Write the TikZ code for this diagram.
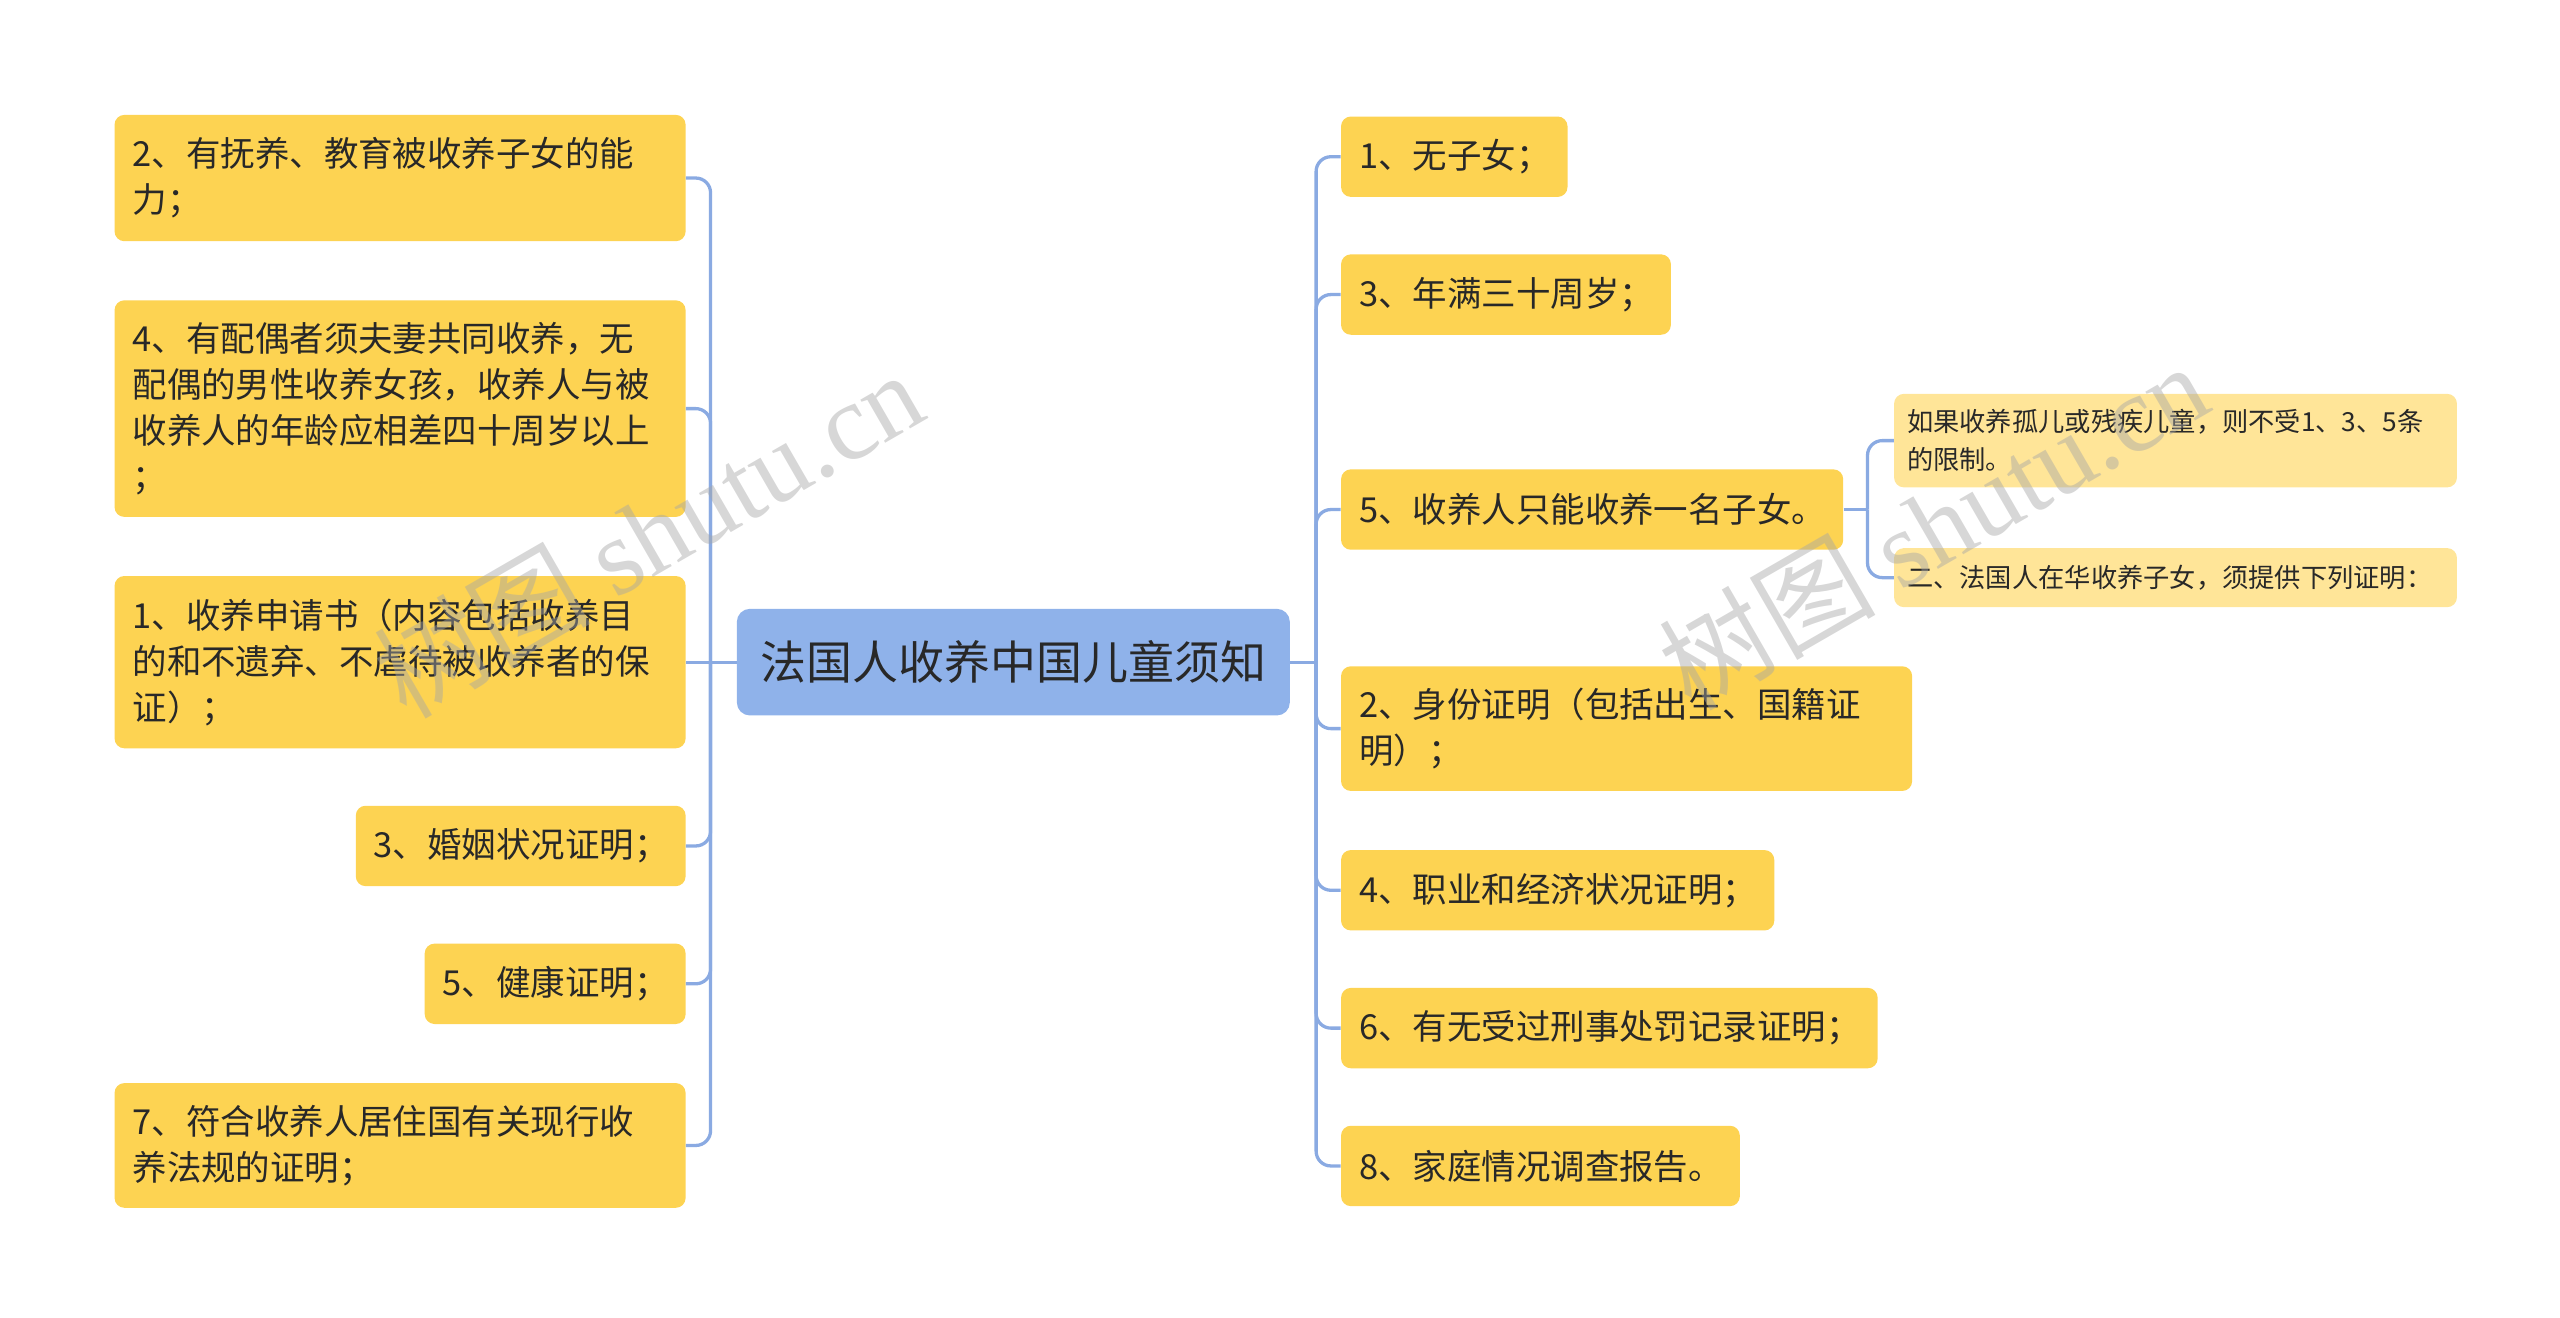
\documentclass[tikz,border=0pt]{standalone}
\usepackage{fontspec}
\setmainfont{Noto Sans CJK SC}
\newfontfamily\wmserif{Liberation Serif}
\usetikzlibrary{positioning}
\definecolor{leafc}{RGB}{253,211,82}
\definecolor{subc}{RGB}{255,229,152}
\definecolor{rootc}{RGB}{143,178,234}
\definecolor{linkc}{RGB}{138,170,226}
\definecolor{txtc}{RGB}{40,40,40}
\tikzset{
  leaf/.style={fill=leafc, rounded corners=6pt, inner xsep=11pt, inner ysep=0pt,
    align=left, text=txtc, minimum height=49pt, font=\fontsize{21pt}{28pt}\selectfont},
  subleaf/.style={fill=subc, rounded corners=6pt, inner xsep=8pt, inner ysep=0pt,
    align=left, text=txtc, text width=327pt, font=\fontsize{16pt}{23pt}\selectfont},
  rootbox/.style={fill=rootc, rounded corners=8pt, minimum width=337pt, minimum height=65pt,
    text=txtc, font=\fontsize{28pt}{34pt}\selectfont},
  link/.style={draw=linkc, line width=2pt, rounded corners=9pt},
  wmark/.style={text=gray!70, opacity=0.45, rotate=30, font=\fontsize{66pt}{66pt}\selectfont}
}
\begin{document}
\begin{tikzpicture}[x=1pt,y=-1pt]
  \useasboundingbox (0,0) rectangle (1560,802.6);

  % centre
  \node[rootbox] (root) at (617.5,403.5) {法国人收养中国儿童须知};

  % left branch
  \node[leaf, anchor=east, text width=326pt, minimum height=77pt] (l2) at (418,108.5)
    {2、有抚养、教育被收养子女的能\\力；};
  \node[leaf, anchor=east, text width=326pt, minimum height=132pt] (l4) at (418,249)
    {4、有配偶者须夫妻共同收养，无\\配偶的男性收养女孩，收养人与被\\收养人的年龄应相差四十周岁以上\\；};
  \node[leaf, anchor=east, text width=326pt, minimum height=105pt] (l1) at (418,403.5)
    {1、收养申请书（内容包括收养目\\的和不遗弃、不虐待被收养者的保\\证）；};
  \node[leaf, anchor=east, text width=179pt] (l3) at (418,515.5) {3、婚姻状况证明；};
  \node[leaf, anchor=east, text width=137pt] (l5) at (418,599.5) {5、健康证明；};
  \node[leaf, anchor=east, text width=326pt, minimum height=76pt] (l7) at (418,698)
    {7、符合收养人居住国有关现行收\\养法规的证明；};

  % right branch
  \node[leaf, anchor=west, text width=116pt] (r1) at (817,95.5) {1、无子女；};
  \node[leaf, anchor=west, text width=179pt] (r3) at (817,179.5) {3、年满三十周岁；};
  \node[leaf, anchor=west, text width=284pt] (r5) at (817,310.5) {5、收养人只能收养一名子女。};
  \node[leaf, anchor=west, text width=326pt, minimum height=76pt] (r2) at (817,444)
    {2、身份证明（包括出生、国籍证\\明）；};
  \node[leaf, anchor=west, text width=242pt] (r4) at (817,542.5) {4、职业和经济状况证明；};
  \node[leaf, anchor=west, text width=305pt] (r6) at (817,626.5) {6、有无受过刑事处罚记录证明；};
  \node[leaf, anchor=west, text width=221pt] (r8) at (817,710.5) {8、家庭情况调查报告。};

  % under 5
  \node[subleaf, anchor=west, minimum height=57pt] (s1) at (1154,268.5)
    {如果收养孤儿或残疾儿童，则不受1、3、5条\\的限制。};
  \node[subleaf, anchor=west, minimum height=36pt] (s2) at (1154,352)
    {二、法国人在华收养子女，须提供下列证明：};

  % connectors
  \coordinate (lj) at (433,403.5);
  \coordinate (rj) at (802,403.5);
  \coordinate (sj) at (1138,310.5);
  \draw[link] (root.west) -- (l1.east);
  \foreach \n in {l2,l4,l3,l5,l7}
    \draw[link] (lj) |- (\n.east);
  \draw[link] (root.east) -- (rj);
  \foreach \n in {r1,r3,r5,r2,r4,r6,r8}
    \draw[link] (rj) |- (\n.west);
  \draw[link] (r5.east) -- (sj);
  \foreach \n in {s1,s2}
    \draw[link] (sj) |- (\n.west);

  % watermark
  \node[wmark] (wm1) at (395,325) {树图 {\wmserif shutu.cn}};
  \node[wmark] (wm2) at (1178,320) {树图 {\wmserif shutu.cn}};
\end{tikzpicture}
\end{document}
